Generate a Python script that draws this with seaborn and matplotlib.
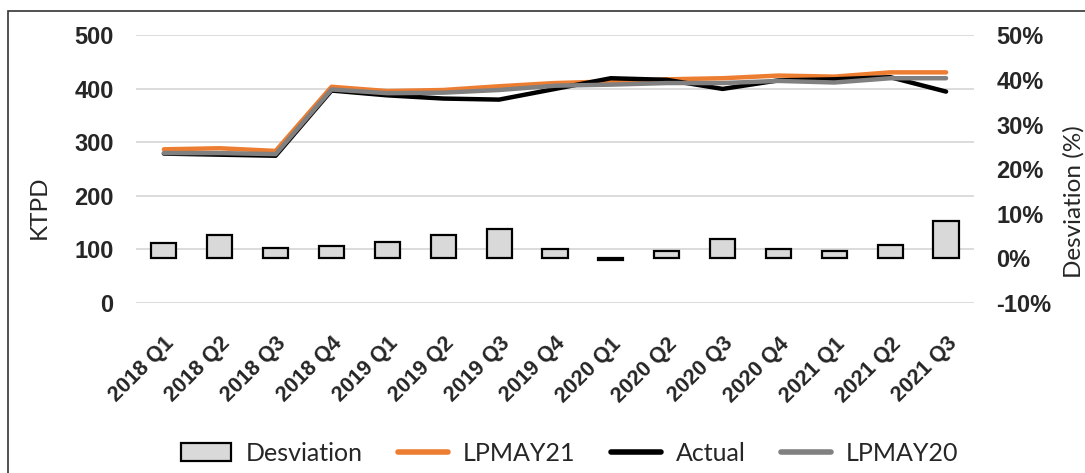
import numpy as np
import pandas as pd
import seaborn as sns
import matplotlib.pyplot as plt
from matplotlib.patches import Patch, Rectangle
from matplotlib.lines import Line2D

# ------------------------------
# Data
# ------------------------------
quarters = ["2018 Q1", "2018 Q2", "2018 Q3", "2018 Q4",
            "2019 Q1", "2019 Q2", "2019 Q3", "2019 Q4",
            "2020 Q1", "2020 Q2", "2020 Q3", "2020 Q4",
            "2021 Q1", "2021 Q2", "2021 Q3"]

lpmay21 = [287, 289, 284, 404, 396, 398, 405, 411, 414, 418, 420, 425, 423, 431, 431]
actual = [279, 277, 275, 397, 388, 382, 380, 400, 420, 417, 400, 416, 418, 422, 395]
lpmay20 = [280, 280, 278, 399, 392, 393, 398, 406, 408, 411, 411, 415, 412, 420, 420]

desviation = [3.3, 5.2, 2.3, 2.7, 3.7, 5.2, 6.6, 2.0, -0.4, 1.5, 4.4, 2.0, 1.5, 3.0, 8.3]

left_ticks = [0, 100, 200, 300, 400, 500]
right_ticks = [-10, 0, 10, 20, 30, 40, 50]

COLORS = {"LPMAY21": "#ED7D31", "Actual": "#000000", "LPMAY20": "#808080"}
BAR_COLOR = "#D9D9D9"
GRID_COLOR = "#D9D9D9"

sns.set_style("white")
plt.rcParams["font.family"] = ["Liberation Sans", "DejaVu Sans"]

lines_df = pd.DataFrame({
    "pos": np.arange(len(quarters)),
    "LPMAY21": lpmay21,
    "Actual": actual,
    "LPMAY20": lpmay20,
}).melt(id_vars="pos", var_name="series", value_name="KTPD")

bars_df = pd.DataFrame({"quarter": quarters, "desviation": desviation})

fig = plt.figure(figsize=(10.85, 4.73), dpi=100)
ax = fig.add_axes([0.1253, 0.36, 0.7724, 0.565])

# grid + left axis
ax.set_ylim(0, 500)
ax.set_yticks(left_ticks)
ax.grid(axis="y", color=GRID_COLOR, linewidth=1.3)
ax.grid(axis="x", visible=False)

# bars on the right axis
ax2 = ax.twinx()
sns.barplot(
    data=bars_df,
    x="quarter",
    y="desviation",
    color=BAR_COLOR,
    saturation=1,
    edgecolor="black",
    linewidth=1.6,
    width=0.45,
    ax=ax2
)
ax2.set_ylim(-10, 50)
ax2.set_yticks(right_ticks, [f"{t}%" for t in right_ticks])

# lines on top
ax3 = ax.twinx()
sns.lineplot(
    data=lines_df,
    x="pos",
    y="KTPD",
    hue="series",
    hue_order=["LPMAY21", "Actual", "LPMAY20"],
    palette=COLORS,
    linewidth=3.2,
    legend=False,
    ax=ax3
)
ax3.set_ylim(0, 500)
ax3.yaxis.set_visible(False)

for a in (ax, ax2, ax3):
    for s in a.spines.values():
        s.set_visible(False)
    a.set_xlim(-0.5, len(quarters) - 0.5)

ax.set_xticks(np.arange(len(quarters)))
ax.set_xticklabels(quarters, rotation=45, ha="right", rotation_mode="anchor",
                   fontsize=15.5, fontweight="bold")
ax.tick_params(axis="x", length=0, pad=22)
ax.tick_params(axis="y", length=0, pad=16, labelsize=17)
for t in ax.get_yticklabels():
    t.set_fontweight("bold")
ax2.tick_params(axis="y", length=0, pad=16, labelsize=17)
for t in ax2.get_yticklabels():
    t.set_fontweight("bold")

label_font = {"family": ["Lato", "DejaVu Sans"], "size": 17.5}
ax.set_xlabel("")
ax2.set_xlabel("")
ax.set_ylabel("KTPD", fontdict=label_font)
ax.yaxis.set_label_coords(-0.1026, 0.358)
ax2.set_ylabel("Desviation (%)", fontdict=label_font)
ax2.yaxis.set_label_coords(1.106, 0.38)

handles = [
    Patch(facecolor=BAR_COLOR, edgecolor="black", linewidth=1.6, label="Desviation"),
    Line2D([], [], color=COLORS["LPMAY21"], linewidth=4, label="LPMAY21"),
    Line2D([], [], color=COLORS["Actual"], linewidth=4, label="Actual"),
    Line2D([], [], color=COLORS["LPMAY20"], linewidth=4, label="LPMAY20"),
]
fig.legend(
    handles=handles,
    loc="center",
    bbox_to_anchor=(0.525, 0.042),
    ncol=4,
    frameon=False,
    prop={"family": ["Lato", "DejaVu Sans"], "size": 18},
    handlelength=2.0,
    handleheight=0.7,
    handletextpad=0.6,
    columnspacing=1.4
)

# outer frame (cropped at right and bottom in the reference)
fig.add_artist(Rectangle((0.0078, -0.1), 1.2, 0.9767 + 0.1,
                         transform=fig.transFigure, fill=False,
                         edgecolor="#333333", linewidth=1.2))

fig.savefig("out.png", dpi=100)
